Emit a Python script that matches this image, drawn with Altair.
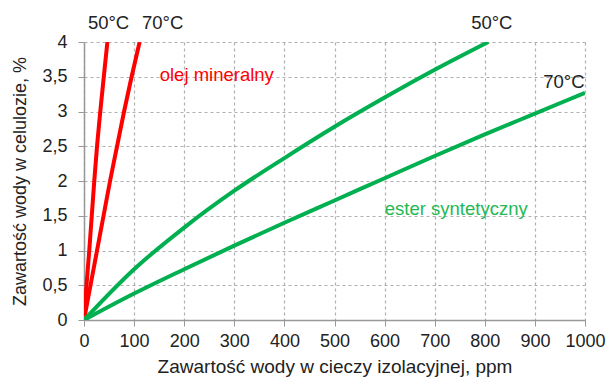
import altair as alt
import pandas as pd

# Mineral oil (olej mineralny)
mo50_x = [0, 5, 10.5, 15.5, 20.5, 26, 32.5, 39.5, 46.7]
mo50_y = [0, 0.5, 1.0, 1.5, 2.0, 2.5, 3.0, 3.5, 4.0]
mo70_x = [0, 13, 26, 39, 52, 66, 80, 95, 111]
mo70_y = [0, 0.5, 1.0, 1.5, 2.0, 2.5, 3.0, 3.5, 4.0]

# Synthetic ester (ester syntetyczny)
se50_x = [0, 100, 200, 300, 400, 500, 600, 700, 807]
se50_y = [0, 0.73, 1.33, 1.86, 2.33, 2.78, 3.20, 3.60, 4.0]
se70_x = [0, 100, 200, 300, 400, 500, 600, 700, 800, 900, 1000]
se70_y = [0, 0.38, 0.73, 1.07, 1.40, 1.72, 2.04, 2.36, 2.67, 2.97, 3.27]

# Annotations
ann_text = ["50°C", "70°C", "50°C", "70°C", "olej mineralny", "ester syntetyczny"]
ann_x = [49, 157, 814, 958, 265, 743]
ann_y = [4.28, 4.28, 4.28, 3.42, 3.52, 1.60]
ann_col = ["#222222", "#222222", "#222222", "#222222", "#ff0000", "#1fb954"]

x_ticks = [0, 100, 200, 300, 400, 500, 600, 700, 800, 900, 1000]
y_ticks = [0, 0.5, 1, 1.5, 2, 2.5, 3, 3.5, 4]

RED = "#ff0000"
GREEN = "#00b050"

rows = []
for name, xs, ys, c in [("mo50", mo50_x, mo50_y, RED), ("mo70", mo70_x, mo70_y, RED),
                        ("se50", se50_x, se50_y, GREEN), ("se70", se70_x, se70_y, GREEN)]:
    for i, (a, b) in enumerate(zip(xs, ys)):
        rows.append({"series": name, "x": a, "y": b, "order": i, "color": c})
df = pd.DataFrame(rows)
ann = pd.DataFrame({"text": ann_text, "x": ann_x, "y": ann_y, "color": ann_col})

FONT = "Liberation Sans"

xscale = alt.Scale(domain=[0, 1000], nice=False)
yscale = alt.Scale(domain=[0, 4], nice=False)

xaxis = alt.Axis(
    title="Zawartość wody w cieczy izolacyjnej, ppm",
    values=x_ticks,
    format="d",
    labelOverlap=False,
    labelFlush=False,
    grid=True, gridDash=[3, 3], gridColor="#b0b0b0", gridWidth=1.2,
    domainColor="#999999", domainWidth=1.5,
    tickColor="#999999", tickSize=6,
    labelFont=FONT, labelFontSize=18, labelColor="#222222", labelPadding=6,
    titleFont=FONT, titleFontSize=19, titleFontWeight="normal", titleColor="#222222",
    titlePadding=7,
)
yaxis = alt.Axis(
    title="Zawartość wody w celulozie, %",
    values=y_ticks,
    labelExpr="datum.value == floor(datum.value) ? format(datum.value, 'd') : replace(format(datum.value, '.1f'), '.', ',')",
    labelOverlap=False,
    labelFlush=False,
    grid=True, gridDash=[3, 3], gridColor="#b0b0b0", gridWidth=1.2,
    domainColor="#999999", domainWidth=1.5,
    tickColor="#999999", tickSize=6,
    labelFont=FONT, labelFontSize=18, labelColor="#222222", labelPadding=11,
    titleFont=FONT, titleFontSize=18, titleFontWeight="normal", titleColor="#222222",
    titlePadding=12,
)

lines = alt.Chart(df).mark_line(strokeWidth=4, interpolate="monotone", clip=True).encode(
    x=alt.X("x:Q", scale=xscale, axis=xaxis),
    y=alt.Y("y:Q", scale=yscale, axis=yaxis),
    detail="series:N",
    order="order:Q",
    color=alt.Color("color:N", scale=None),
)

labels = alt.Chart(ann).mark_text(font=FONT, fontSize=18.5, align="center", baseline="middle").encode(
    x=alt.X("x:Q", scale=xscale, axis=xaxis),
    y=alt.Y("y:Q", scale=yscale, axis=yaxis),
    text="text:N",
    color=alt.Color("color:N", scale=None),
)

chart = alt.layer(lines, labels).properties(
    width=501, height=278,
    autosize=alt.AutoSizeParams(type="none"),
    padding={"left": 84, "top": 42, "right": 21, "bottom": 59},
    background="white",
).configure_view(stroke=None)

chart.save("out.html", embed_options={"renderer": "svg", "actions": False})
